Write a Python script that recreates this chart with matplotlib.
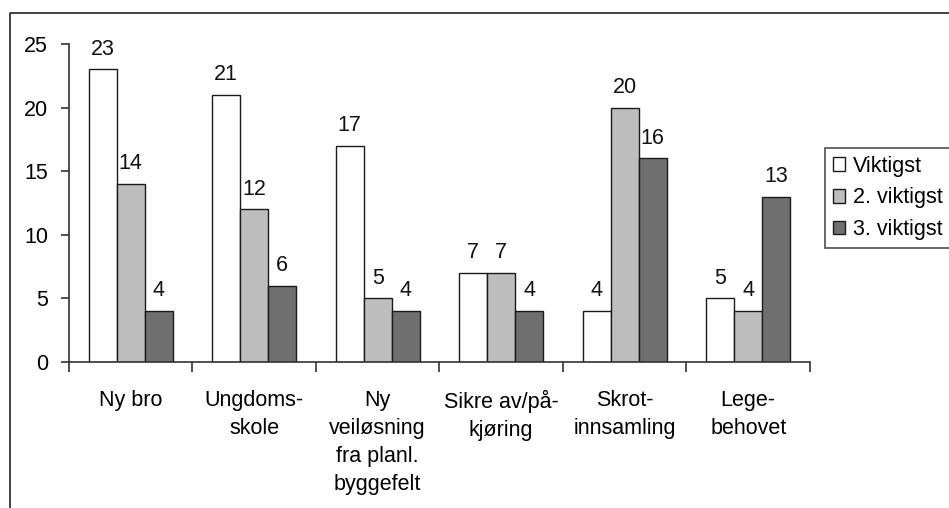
import numpy as np
import matplotlib
matplotlib.use('Agg')
import matplotlib.pyplot as plt
from matplotlib.lines import Line2D

# Data section
categories = ['Ny bro', 'Ungdoms-\nskole', 'Ny\nveiløsning\nfra planl.\nbyggefelt',
              'Sikre av/på-\nkjøring', 'Skrot-\ninnsamling', 'Lege-\nbehovet']
viktigst = [23, 21, 17, 7, 4, 5]
viktigst_2 = [14, 12, 5, 7, 20, 4]
viktigst_3 = [4, 6, 4, 4, 16, 13]
series_names = ['Viktigst', '2. viktigst', '3. viktigst']

plt.rcParams['font.family'] = ['Liberation Sans', 'DejaVu Sans']

fig = plt.figure(figsize=(9.49, 5.08), dpi=100)
ax = fig.add_axes([0.0727, 0.2874, 0.7808, 0.626])

x = np.arange(len(categories))
w = 0.227
colors = ['#ffffff', '#bebebe', '#6f6f6f']
series = [viktigst, viktigst_2, viktigst_3]
fs = 15.5

for k, (vals, col, name) in enumerate(zip(series, colors, series_names)):
    bars = ax.bar(x + (k - 1) * w, vals, width=w, color=col,
                  edgecolor='#1a1a1a', linewidth=1.0, label=name)
    for b, v in zip(bars, vals):
        ax.annotate(str(v), (b.get_x() + b.get_width() / 2, v),
                    xytext=(0, 7), textcoords='offset points',
                    ha='center', va='bottom', fontsize=fs, color='#111111')

ax.set_xlim(-0.5, len(categories) - 0.5)
ax.set_ylim(0, 25)
ax.set_yticks(range(0, 26, 5))
ax.set_xticks(x)
ax.set_xticklabels(categories, fontsize=fs, linespacing=1.45)
ax.set_xticks(np.arange(-0.5, len(categories), 1.0), minor=True)
ax.tick_params(axis='x', which='major', length=0, pad=20)
ax.tick_params(axis='x', which='minor', length=7, width=1.2, direction='out', color='#333333')
ax.tick_params(axis='y', labelsize=fs, length=6, width=1.2, direction='out', color='#333333', pad=9)

for side in ['top', 'right']:
    ax.spines[side].set_visible(False)
for side in ['left', 'bottom']:
    ax.spines[side].set_linewidth(1.2)
    ax.spines[side].set_color('#333333')

leg = ax.legend(loc='upper left', bbox_to_anchor=(825 / 949, 1 - 148 / 508),
                bbox_transform=fig.transFigure, fontsize=fs,
                frameon=True, fancybox=False, edgecolor='#222222',
                handlelength=0.6, handleheight=0.6, handletextpad=0.35,
                borderpad=0.35, labelspacing=0.5, borderaxespad=0)
leg.get_frame().set_linewidth(1.2)

# outer border of the chart area (scan shows only left and top)
fig.add_artist(Line2D([10 / 949, 10 / 949, 1.0], [0.0, 1 - 13 / 508, 1 - 13 / 508],
                      transform=fig.transFigure, color='#222222', linewidth=1.2))

fig.savefig('out.png', dpi=100)
